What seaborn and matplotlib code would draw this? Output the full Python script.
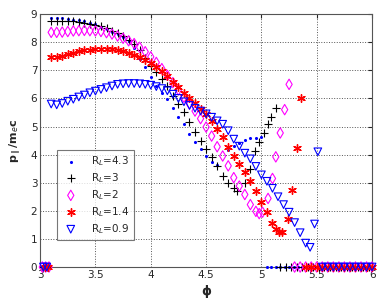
import numpy as np
import pandas as pd
import matplotlib
matplotlib.use('Agg')
import matplotlib.pyplot as plt
import seaborn as sns

# RL = 4.3 (blue dots)
phi_43 = [3.02, 3.05,
          3.10, 3.15, 3.20, 3.25, 3.30, 3.35, 3.40, 3.45, 3.50, 3.55, 3.60, 3.65,
          3.70, 3.75, 3.80, 3.85, 3.90, 3.95, 4.00, 4.05, 4.10, 4.15, 4.20, 4.25,
          4.30, 4.35, 4.40, 4.45, 4.50, 4.55, 4.60,
          4.70, 4.75, 4.80, 4.85, 4.90, 4.95, 5.00,
          5.05, 5.09, 5.13, 5.17, 5.21, 5.25, 5.29, 5.33, 5.37, 5.41, 5.45, 5.49,
          5.53, 5.57, 5.61, 5.65, 5.69, 5.73, 5.77, 5.81, 5.85, 5.89, 5.93, 5.97, 6.00]
p_43 = [0, 0,
        8.87, 8.87, 8.86, 8.84, 8.80, 8.78, 8.75, 8.70, 8.63, 8.55, 8.47, 8.38,
        8.28, 8.17, 8.05, 7.80, 7.40, 7.10, 6.75, 6.45, 6.20, 5.98, 5.65, 5.35,
        5.08, 4.75, 4.45, 4.20, 3.95, 3.75, 3.62,
        4.15, 4.30, 4.42, 4.52, 4.58, 4.60, 4.62,
        0, 0, 0, 0, 0, 0, 0, 0, 0, 0, 0, 0,
        0, 0, 0, 0, 0, 0, 0, 0, 0, 0, 0, 0, 0]

# RL = 3 (black plus)
phi_3 = [3.03, 3.06,
         3.10, 3.15, 3.20, 3.25, 3.30, 3.35, 3.40, 3.45, 3.50, 3.55, 3.60, 3.65,
         3.70, 3.75, 3.80, 3.85, 3.90, 3.95, 4.00, 4.05, 4.10, 4.15, 4.20, 4.25,
         4.30, 4.35, 4.40, 4.45, 4.50, 4.55, 4.60, 4.65, 4.70, 4.75, 4.78,
         4.85, 4.90, 4.94, 4.98, 5.02, 5.06, 5.09, 5.13,
         5.17, 5.22, 5.27, 5.32, 5.37, 5.42, 5.47, 5.52, 5.57, 5.62, 5.67, 5.72,
         5.77, 5.82, 5.87, 5.92, 5.97]
p_3 = [0, 0,
       8.75, 8.75, 8.76, 8.76, 8.75, 8.73, 8.70, 8.66, 8.62, 8.56, 8.49, 8.41,
       8.32, 8.21, 8.08, 7.92, 7.74, 7.45, 7.15, 6.95, 6.70, 6.45, 6.10, 5.80,
       5.50, 5.15, 4.80, 4.50, 4.20, 3.90, 3.58, 3.25, 3.00, 2.82, 2.70,
       3.00, 3.50, 4.12, 4.45, 4.78, 5.08, 5.35, 5.65,
       0, 0, 0, 0, 0, 0, 0, 0, 0, 0, 0, 0,
       0, 0, 0, 0, 0]

# RL = 2 (magenta diamonds)
phi_2 = [3.02, 3.05, 3.08,
         3.10, 3.15, 3.20, 3.25, 3.30, 3.35, 3.40, 3.45, 3.50, 3.55, 3.60, 3.65,
         3.70, 3.75, 3.80, 3.85, 3.90, 3.95, 4.00, 4.05, 4.10, 4.15, 4.20, 4.25,
         4.30, 4.35, 4.40, 4.45, 4.50, 4.55, 4.60, 4.65, 4.70, 4.75, 4.80, 4.85,
         4.90, 4.95, 4.98,
         5.01, 5.06, 5.10, 5.13, 5.17, 5.21, 5.25,
         5.30, 5.35, 5.40, 5.45, 5.50, 5.55, 5.60, 5.65, 5.70, 5.75, 5.80, 5.85,
         5.90, 5.95, 6.00]
p_2 = [0, 0, 0,
       8.35, 8.35, 8.36, 8.38, 8.40, 8.41, 8.42, 8.41, 8.40, 8.38, 8.34, 8.29,
       8.22, 8.14, 8.05, 7.95, 7.82, 7.66, 7.48, 7.28, 7.06, 6.82, 6.56, 6.30,
       6.04, 5.80, 5.55, 5.28, 4.98, 4.66, 4.28, 3.95, 3.60, 3.18, 2.88, 2.58,
       2.22, 1.98, 1.90,
       1.95, 2.44, 3.15, 3.92, 4.77, 5.60, 6.50,
       0, 0, 0, 0, 0, 0, 0, 0, 0, 0, 0, 0,
       0, 0, 0]

# RL = 1.4 (red asterisks)
phi_14 = [3.04, 3.07,
          3.10, 3.15, 3.20, 3.25, 3.30, 3.35, 3.40, 3.45, 3.50, 3.55, 3.60, 3.65,
          3.70, 3.75, 3.80, 3.85, 3.90, 3.95, 4.00, 4.05, 4.10, 4.15, 4.20, 4.25,
          4.30, 4.35, 4.40, 4.45, 4.50, 4.55, 4.60, 4.65, 4.70, 4.75, 4.80, 4.85,
          4.90, 4.95, 5.00, 5.05, 5.10, 5.13, 5.16, 5.19,
          5.24, 5.28, 5.32, 5.36,
          5.40, 5.45, 5.50, 5.55, 5.60, 5.65, 5.70, 5.75, 5.80, 5.85, 5.90, 5.95, 6.00]
p_14 = [0, 0,
        7.48, 7.49, 7.52, 7.57, 7.62, 7.67, 7.71, 7.74, 7.76, 7.77, 7.77, 7.75,
        7.72, 7.67, 7.62, 7.55, 7.47, 7.38, 7.27, 7.12, 6.96, 6.78, 6.60, 6.40,
        6.20, 6.00, 5.82, 5.63, 5.43, 5.18, 4.92, 4.62, 4.28, 3.95, 3.65, 3.38,
        3.05, 2.72, 2.32, 1.95, 1.55, 1.35, 1.25, 1.25,
        1.72, 2.73, 4.24, 6.03,
        0, 0, 0, 0, 0, 0, 0, 0, 0, 0, 0, 0, 0]

# RL = 0.9 (blue triangles)
phi_09 = [3.03, 3.06,
          3.10, 3.15, 3.20, 3.25, 3.30, 3.35, 3.40, 3.45, 3.50, 3.55, 3.60, 3.65,
          3.70, 3.75, 3.80, 3.85, 3.90, 3.95, 4.00, 4.05, 4.10, 4.15, 4.20, 4.25,
          4.30, 4.35, 4.40, 4.45, 4.50, 4.55, 4.60, 4.65, 4.70, 4.75, 4.80, 4.85,
          4.90, 4.95, 5.00, 5.05, 5.10, 5.15, 5.20, 5.25, 5.30, 5.35, 5.40, 5.44,
          5.48, 5.51,
          5.55, 5.60, 5.65, 5.70, 5.75, 5.80, 5.85, 5.90, 5.95, 6.00]
p_09 = [0, 0,
        5.80, 5.77, 5.82, 5.90, 5.97, 6.05, 6.12, 6.20, 6.26, 6.32, 6.38, 6.44,
        6.50, 6.52, 6.53, 6.53, 6.52, 6.50, 6.47, 6.42, 6.35, 6.27, 6.15, 6.00,
        5.88, 5.75, 5.65, 5.55, 5.45, 5.33, 5.20, 5.08, 4.85, 4.55, 4.30, 4.05,
        3.85, 3.58, 3.28, 3.05, 2.80, 2.50, 2.22, 1.95, 1.58, 1.22, 0.85, 0.70,
        1.53, 4.10,
        0, 0, 0, 0, 0, 0, 0, 0, 0, 0]

labels = ['R$_L$=4.3', 'R$_L$=3', 'R$_L$=2', 'R$_L$=1.4', 'R$_L$=0.9']

sns.set_style('white')
plt.rcParams['font.family'] = ['DejaVu Sans']

fig = plt.figure(figsize=(3.82, 3.0), dpi=100)
ax = fig.add_axes([0.105, 0.11, 0.869, 0.843])

series = [
    (phi_43, p_43, dict(marker='.', s=20, color='#0000ff', linewidth=0)),
    (phi_3, p_3, dict(marker='+', s=40, color='black', linewidth=0.8)),
    (phi_2, p_2, dict(marker='d', s=28, facecolor='none', edgecolor='#ff00ff', linewidth=0.8)),
    (phi_14, p_14, dict(marker=(6, 2, 0), s=30, color='#ff0000', linewidth=1.0)),
    (phi_09, p_09, dict(marker='v', s=30, facecolor='none', edgecolor='#0000ff', linewidth=0.8)),
]

for (x, y, kw), lab in zip(series, labels):
    df = pd.DataFrame({'phi': x, 'p': y})
    sns.scatterplot(data=df, x='phi', y='p', ax=ax, label=lab, clip_on=False,
                    zorder=3, **kw)

ax.set_xlim(3, 6)
ax.set_ylim(0, 9)
ax.set_xticks([3, 3.5, 4, 4.5, 5, 5.5, 6])
ax.set_xticklabels(['3', '3.5', '4', '4.5', '5', '5.5', '6'])
ax.set_yticks(range(10))
ax.grid(True, linestyle=':', color='#555555', linewidth=0.7)
ax.tick_params(direction='in', labelsize=7.5, length=3, top=True, right=True, pad=2)
for sp in ax.spines.values():
    sp.set_color('#555555')
    sp.set_linewidth(0.8)

ax.set_xlabel(r'$\mathbf{\phi}$', fontsize=9, labelpad=2)
ax.set_ylabel(r'p$_{\parallel}$/m$_e$c', fontsize=8, fontweight='bold', labelpad=5)

leg = ax.legend(loc='lower left', bbox_to_anchor=(0.05, 0.105), fontsize=7.5,
                frameon=True, fancybox=False, edgecolor='#555555',
                handletextpad=1.0, labelspacing=0.3, borderpad=0.45,
                handlelength=1.8, borderaxespad=0)
leg.get_frame().set_linewidth(0.8)

fig.savefig('out.png', dpi=100)
